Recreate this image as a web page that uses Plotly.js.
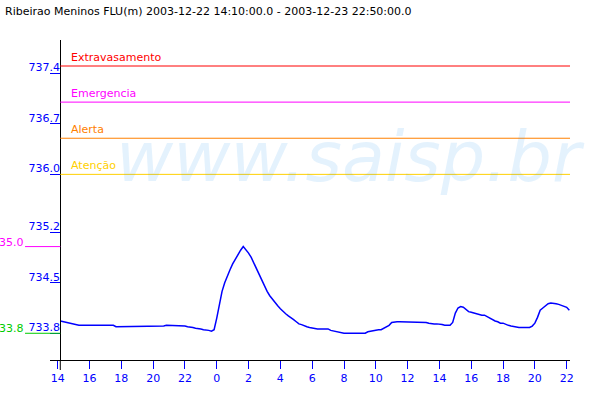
<!DOCTYPE html>
<html>
<head>
<meta charset="utf-8">
<script src="https://cdn.plot.ly/plotly-3.0.1.min.js"></script>
<style>html,body{margin:0;padding:0;background:#fff;}#chart{width:600px;height:400px;}</style>
</head>
<body>
<div id="chart"></div>
<script>
// ---- data ----
const titleText = "Ribeirao Meninos FLU(m) 2003-12-22 14:10:00.0 - 2003-12-23 22:50:00.0";
const seriesStart = "2003-12-22 14:10";
const seriesStepMs = 600000; // 10 minutes between readings
const levels = [
  // 22nd 14:10-14:50
  733.97,733.96,733.96,733.95,733.94,
  // 15h
  733.93,733.92,733.91,733.91,733.91,733.91,
  // 16h
  733.91,733.91,733.91,733.91,733.91,733.91,
  // 17h
  733.91,733.91,733.91,733.91,733.89,733.89,
  // 18h
  733.89,733.89,733.89,733.89,733.89,733.89,
  // 19h
  733.89,733.89,733.89,733.89,733.89,733.89,
  // 20h
  733.89,733.89,733.89,733.89,733.90,733.91,
  // 21h
  733.91,733.91,733.91,733.91,733.91,733.91,
  // 22h
  733.90,733.89,733.89,733.88,733.87,733.87,
  // 23h
  733.86,733.85,733.85,733.84,733.83,733.85,
  // 23rd 00h
  734.01,734.19,734.38,734.50,734.60,734.68,
  // 01h
  734.76,734.83,734.90,734.95,735.00,734.96,
  // 02h
  734.91,734.85,734.77,734.68,734.60,734.53,
  // 03h
  734.45,734.38,734.32,734.27,734.22,734.18,
  // 04h
  734.14,734.10,734.07,734.04,734.02,733.99,
  // 05h
  733.96,733.93,733.92,733.90,733.89,733.88,
  // 06h
  733.87,733.86,733.86,733.86,733.86,733.86,
  // 07h
  733.86,733.84,733.83,733.82,733.81,733.80,
  // 08h
  733.80,733.80,733.80,733.80,733.80,733.80,
  // 09h
  733.80,733.80,733.80,733.82,733.83,733.83,
  // 10h
  733.85,733.85,733.85,733.87,733.89,733.91,
  // 11h
  733.95,733.96,733.96,733.96,733.96,733.96,
  // 12h
  733.96,733.96,733.96,733.95,733.95,733.95,
  // 13h
  733.95,733.95,733.94,733.93,733.93,733.93,
  // 14h
  733.93,733.92,733.91,733.91,733.91,733.95,
  // 15h
  734.08,734.15,734.17,734.16,734.13,734.10,
  // 16h
  734.09,734.08,734.06,734.06,734.05,734.05,
  // 17h
  734.03,734.00,733.99,733.97,733.96,733.94,
  // 18h
  733.94,733.92,733.91,733.90,733.89,733.89,
  // 19h
  733.88,733.88,733.88,733.88,733.88,733.90,
  // 20h
  733.94,734.02,734.12,734.15,734.18,734.21,
  // 21h
  734.22,734.22,734.21,734.20,734.19,734.17,
  // 22h
  734.16,734.12
];

const thresholdNames  = ["Extravasamento", "Emergencia", "Alerta", "Atenção"];
const thresholdValues = [737.5, 737.0, 736.5, 736.0];
const thresholdColors = ["#ff0000", "#ff00ff", "#ff8000", "#ffd000"];

const xTickVals = ["2003-12-22 14:00","2003-12-22 16:00","2003-12-22 18:00","2003-12-22 20:00","2003-12-22 22:00",
  "2003-12-23 00:00","2003-12-23 02:00","2003-12-23 04:00","2003-12-23 06:00","2003-12-23 08:00","2003-12-23 10:00",
  "2003-12-23 12:00","2003-12-23 14:00","2003-12-23 16:00","2003-12-23 18:00","2003-12-23 20:00","2003-12-23 22:00"];
const xTickText = ["14","16","18","20","22","0","2","4","6","8","10","12","14","16","18","20","22"];
const yTickVals = [733.8, 734.5, 735.2, 736.0, 736.7, 737.4];
const yTickText = ["733.8","734.5","735.2","736.0","736.7","737.4"];

const watermarkText = "www.saisp.br";

// ---- styles ----
const FONT = "DejaVu Sans";
const BLUE = "#0000ff";
const yAxisPos = 0.0198;

const maxVal = Math.max(...levels);
const minVal = Math.min(...levels);

const trace = {
  type: "scatter", mode: "lines",
  x0: seriesStart, dx: seriesStepMs, y: levels,
  line: {color: BLUE, width: 1.5},
  hoverinfo: "skip"
};

const shapes = [];
const annotations = [];
thresholdValues.forEach((v, i) => {
  shapes.push({type: "line", xref: "paper", yref: "y", x0: yAxisPos, x1: 1, y0: v, y1: v,
    line: {color: thresholdColors[i], width: 1}});
  annotations.push({xref: "paper", yref: "y", x: 0.0385, y: v, xanchor: "left", yanchor: "bottom",
    text: thresholdNames[i], showarrow: false, font: {family: FONT, size: 11, color: thresholdColors[i]},
    borderpad: 0, yshift: 1});
});
// max / min markers at left
[[maxVal, "#ff00ff"], [minVal, "#00cc00"]].forEach(([v, c]) => {
  shapes.push({type: "line", xref: "paper", yref: "y", x0: -0.048, x1: yAxisPos, y0: v, y1: v,
    line: {color: c, width: 1}});
  annotations.push({xref: "paper", yref: "y", x: -0.048, y: v, xanchor: "right", yanchor: "bottom",
    text: v.toFixed(1), showarrow: false, font: {family: FONT, size: 11, color: c}, borderpad: 0, yshift: -3});
});
// y-axis extension below x-axis
shapes.push({type: "line", xref: "paper", yref: "paper", x0: yAxisPos, x1: yAxisPos, y0: -0.03125, y1: 0,
  line: {color: "#000", width: 1}});

annotations.push({xref: "paper", yref: "paper", x: 0.577, y: 0.634, xanchor: "center", yanchor: "middle",
  text: watermarkText, showarrow: false,
  font: {family: FONT, size: 70, style: "italic", color: "rgba(30,150,240,0.12)"}});

const layout = {
  width: 600, height: 400,
  margin: {l: 50, r: 30, t: 40, b: 40, pad: 0},
  paper_bgcolor: "#fff", plot_bgcolor: "#fff",
  showlegend: false,
  font: {family: FONT, size: 11, color: "#000"},
  title: {text: titleText, font: {family: FONT, size: 11, color: "#000"},
    xref: "container", x: 5/600, xanchor: "left", yref: "container", y: 1 - 11/400, yanchor: "middle"},
  xaxis: {type: "date", range: ["2003-12-22 13:31", "2003-12-23 22:12:30"],
    tickmode: "array", tickvals: xTickVals, ticktext: xTickText,
    ticks: "outside", ticklen: 8, tickwidth: 1, tickcolor: BLUE,
    tickfont: {family: FONT, size: 11, color: BLUE},
    showgrid: false, zeroline: false, showline: true, linecolor: "#000", linewidth: 1},
  yaxis: {range: [733.43, 737.86], anchor: "free", position: yAxisPos,
    tickmode: "array", tickvals: yTickVals, ticktext: yTickText,
    ticks: "outside", ticklen: 10, tickwidth: 1, tickcolor: BLUE,
    tickfont: {family: FONT, size: 11, color: BLUE},
    ticklabelshift: -6, ticklabelstandoff: -12,
    showgrid: false, zeroline: false, showline: true, linecolor: "#000", linewidth: 1},
  shapes: shapes,
  annotations: annotations
};

Plotly.newPlot("chart", [trace], layout, {displayModeBar: false, staticPlot: true});
</script>
</body>
</html>
